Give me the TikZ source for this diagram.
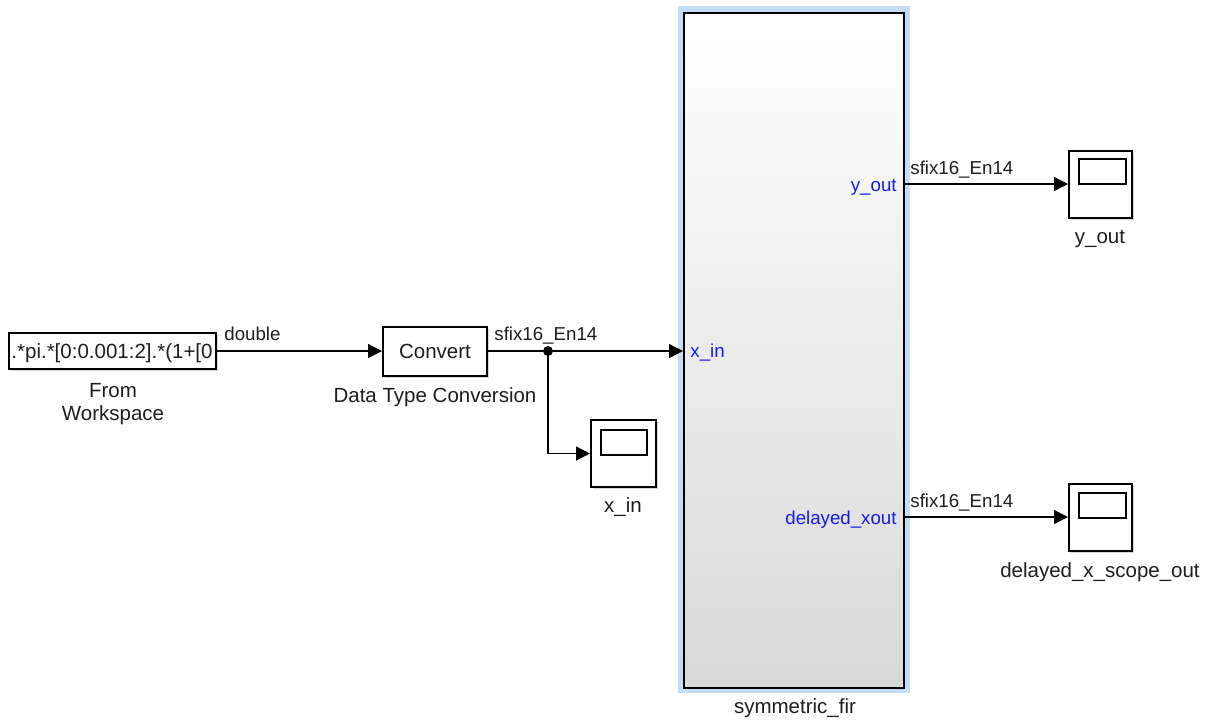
\documentclass[tikz,border=0pt]{standalone}
\usepackage{fontspec}
\setmainfont{Liberation Sans}
\usetikzlibrary{arrows.meta,shadows}
\definecolor{portblue}{RGB}{25,25,235}
\definecolor{selblue}{RGB}{197,220,246}
\definecolor{txt}{RGB}{30,30,30}
\begin{document}
\begin{tikzpicture}[x=0.5pt,y=-0.5pt,
  blk/.style={draw=black, line width=1pt, fill=white, inner sep=0pt,
    drop shadow={opacity=0.3, shadow xshift=1pt, shadow yshift=-1pt}},
  lbl/.style={font=\fontsize{10.25}{12}\selectfont, text=txt, inner sep=0pt},
  sl/.style={font=\fontsize{9.35}{11}\selectfont, text=txt, inner sep=0pt},
  port/.style={font=\fontsize{9.35}{11}\selectfont, text=portblue, inner sep=0pt},
  sig/.style={draw=black, line width=0.65pt, -{Triangle[length=7pt,width=7pt]}},
  wire/.style={draw=black, line width=0.65pt}]
\useasboundingbox (0,0) rectangle (1212,720);
\fill[white] (0,0) rectangle (1212,720);

% From Workspace
\node[blk, minimum width=103.5pt, minimum height=18pt] (fw) at (112.5,351) {};
\begin{scope}
  \clip (10,334) rectangle (215,368);
  \node[lbl, anchor=base east] (fwtext) at (213,358) {.*pi.*[0:0.001:2].*(1+[0};
\end{scope}
\node[lbl, anchor=base] (fwl1) at (113,397) {From};
\node[lbl, anchor=base] (fwl2) at (113,420) {Workspace};

% Convert
\node[blk, minimum width=52pt, minimum height=24.5pt, lbl] (conv) at (435,351) {Convert};
\node[lbl, anchor=base] (convl) at (435,402) {Data Type Conversion};

% Subsystem
\fill[selblue] (678,6) rectangle (910,693);
\node[draw=black, line width=1pt, top color=white, bottom color=black!15,
  minimum width=110pt, minimum height=337.5pt, inner sep=0pt] (sub) at (794,350.5) {};
\node[port, anchor=base west] (pxin) at (690,357) {x\_in};
\node[port, anchor=base east] (pyout) at (897,191) {y\_out};
\node[port, anchor=base east] (pdx) at (897,524) {delayed\_xout};
\node[lbl, anchor=base] (subl) at (795,713) {symmetric\_fir};

% Scopes
\node[blk, minimum width=32.5pt, minimum height=33.5pt] (sx) at (623.5,453.5) {};
\draw[line width=0.9pt] (601,430) rectangle (647,455);
\node[lbl, anchor=base] (sxl) at (623,512) {x\_in};

\node[blk, minimum width=31.5pt, minimum height=33.5pt] (sy) at (1100.5,184) {};
\draw[line width=0.9pt] (1079,159) rectangle (1126,184);
\node[lbl, anchor=base] (syl) at (1100,243) {y\_out};

\node[blk, minimum width=31.5pt, minimum height=33.5pt] (sd) at (1100.5,517) {};
\draw[line width=0.9pt] (1079,493) rectangle (1126,518);
\node[lbl, anchor=base] (sdl) at (1100,577) {delayed\_x\_scope\_out};

% Connectors
\coordinate (br) at (548,351);
\draw[sig] (fw.east) -- (conv.west);
\node[sl, anchor=base west] (l1) at (224,340) {double};
\draw[wire] (conv.east) -- (br);
\draw[sig] (br) -- (br -| sub.west);
\draw[sig] (br) |- (sx.west);
\fill (br) circle (2.5pt);
\node[sl, anchor=base west] (l2) at (494,340) {sfix16\_En14};

\draw[sig] (sub.east |- sy.west) -- (sy.west);
\node[sl, anchor=base west] (l3) at (910,174) {sfix16\_En14};
\draw[sig] (sub.east |- sd.west) -- (sd.west);
\node[sl, anchor=base west] (l4) at (910,507) {sfix16\_En14};
\end{tikzpicture}
\end{document}
